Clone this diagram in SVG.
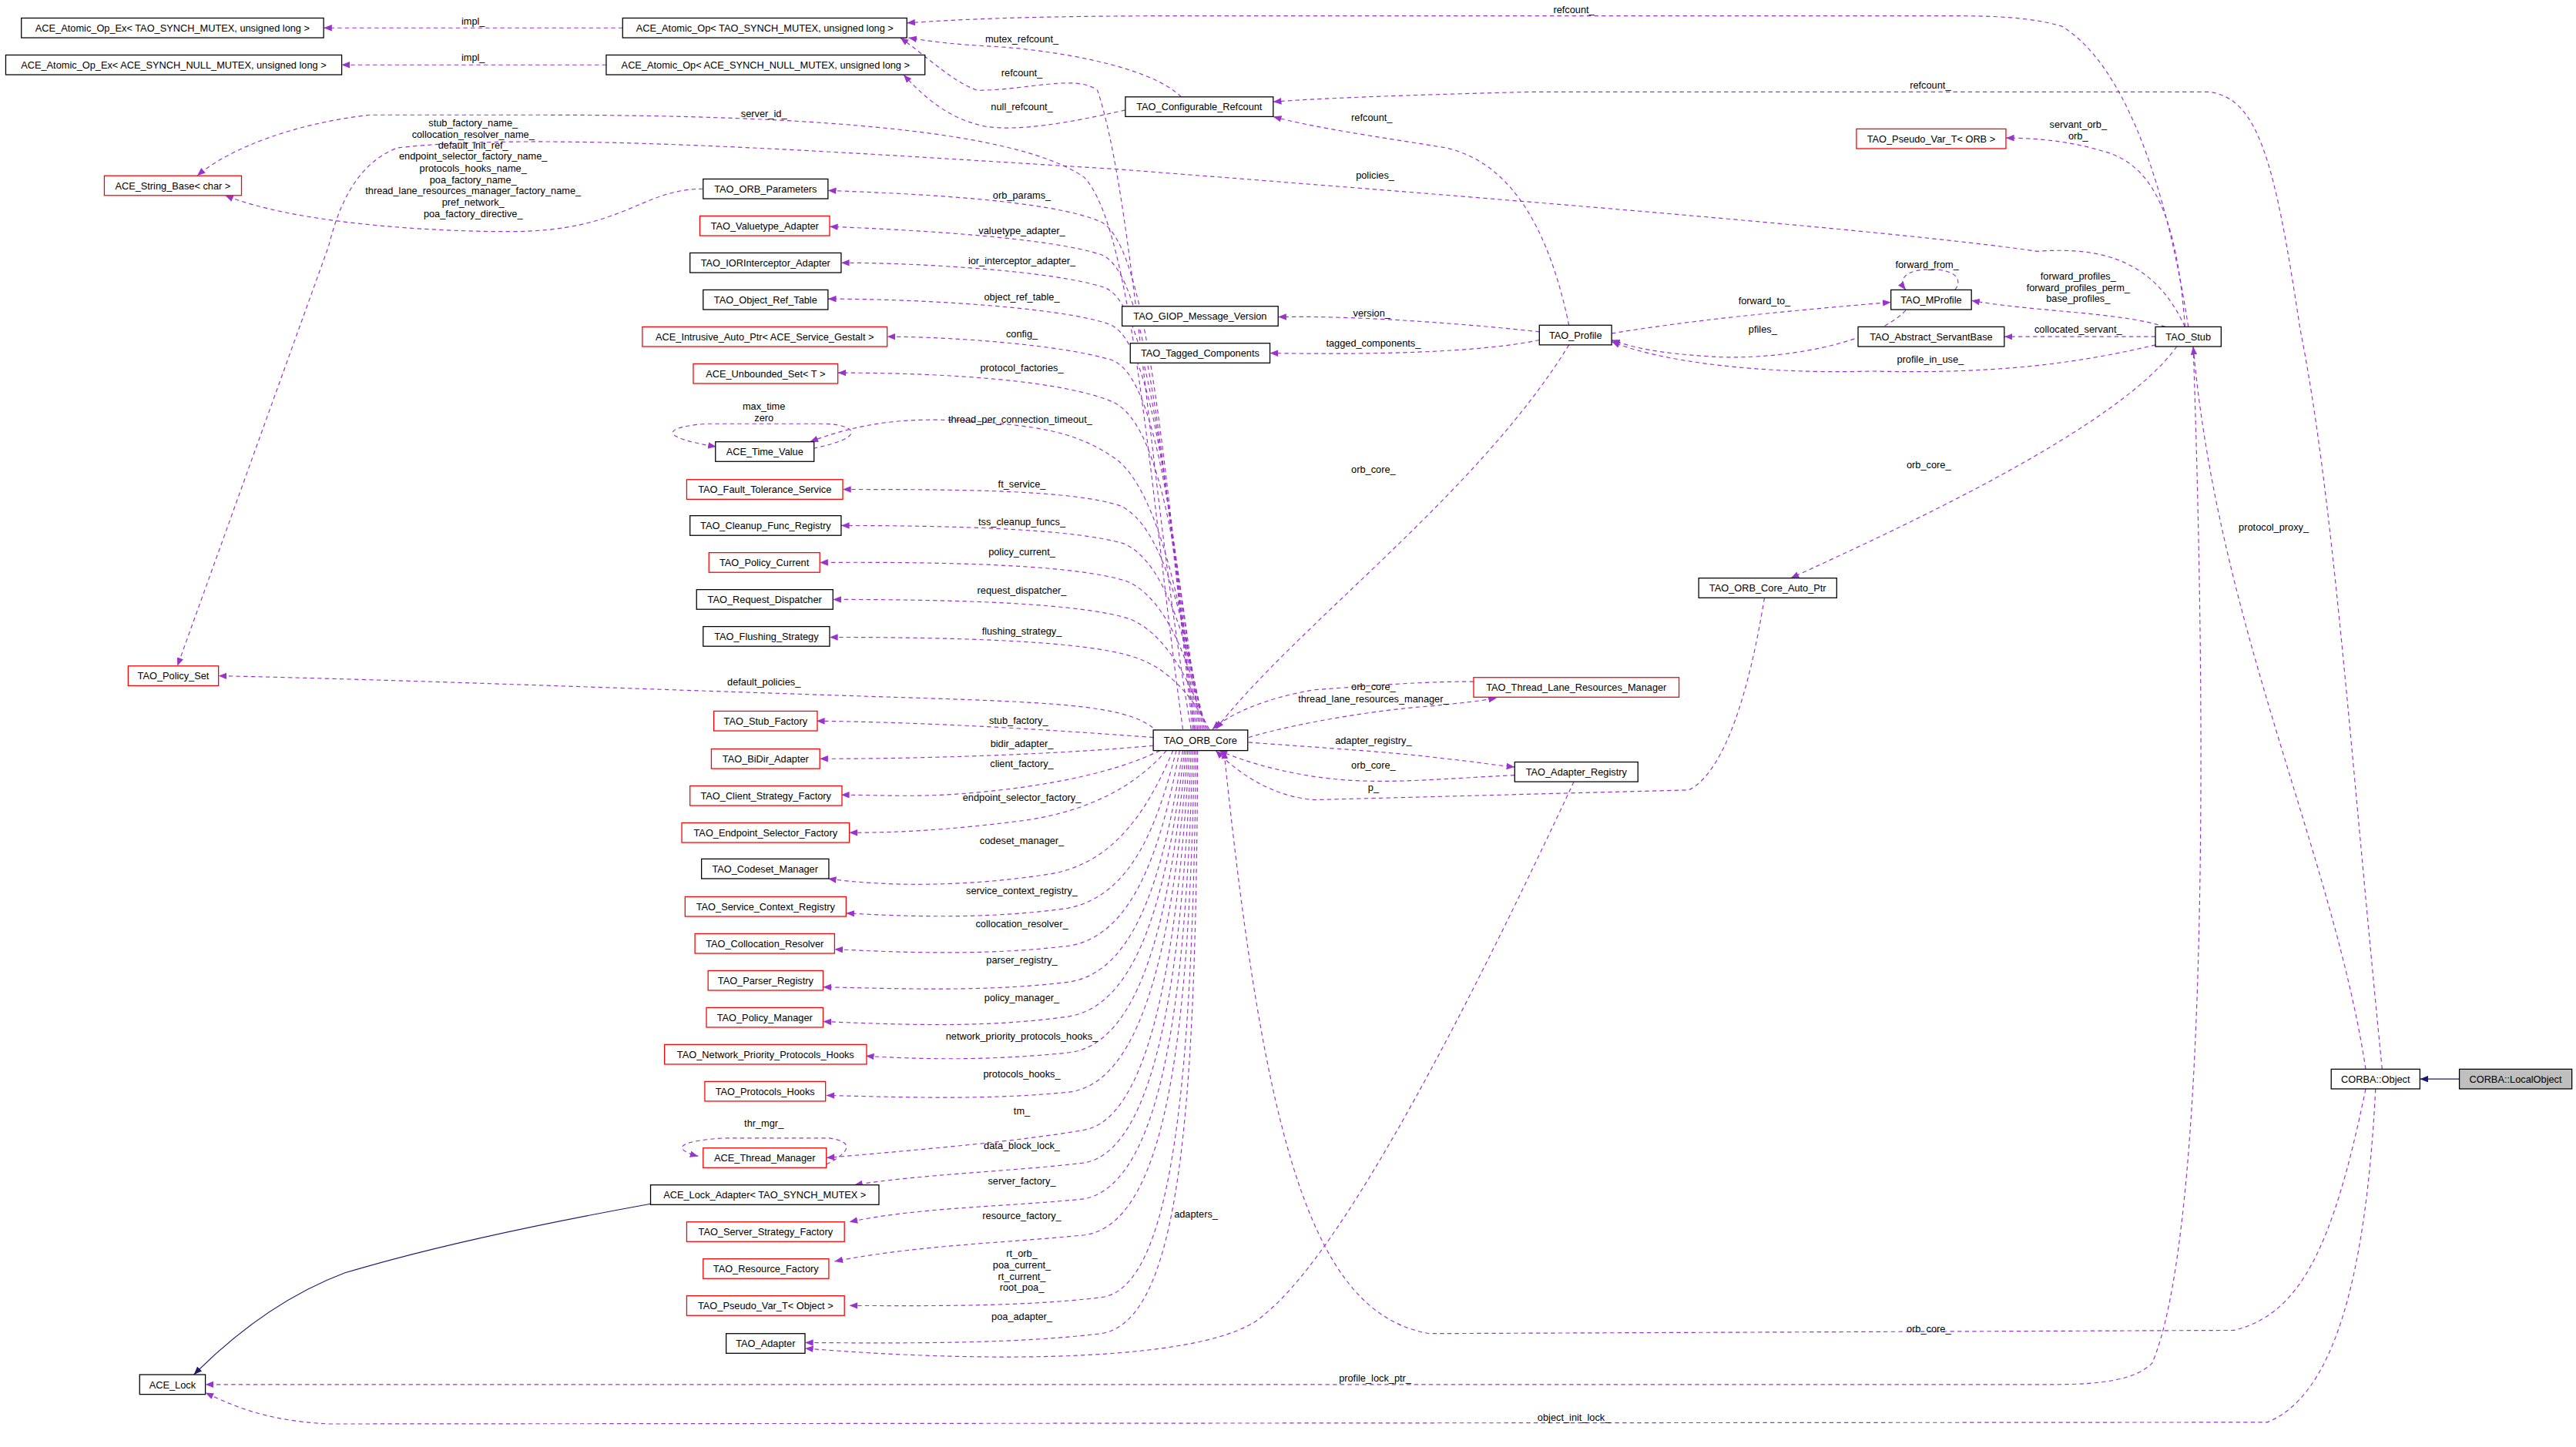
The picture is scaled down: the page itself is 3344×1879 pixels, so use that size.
<svg xmlns="http://www.w3.org/2000/svg" width="3344" height="1879" viewBox="0 0 3344 1879">
<style>
.n rect{fill:#fff;stroke:#000;stroke-width:0.6}
.n.r rect{stroke:#ff0000}
.n text{font-family:"Liberation Sans",Arial,sans-serif;font-size:6px;text-anchor:middle;fill:#000}
.e path{fill:none;stroke:#9a32cd;stroke-width:0.55;stroke-dasharray:2.5,2}
.e path.i{stroke:#191970;stroke-dasharray:none}
.l text{font-family:"Liberation Sans",Arial,sans-serif;font-size:6px;text-anchor:middle;fill:#000}
</style>
<defs>
<marker id="a" viewBox="0 0 10 8" refX="10" refY="4" markerWidth="5" markerHeight="4" markerUnits="userSpaceOnUse" orient="auto"><path d="M0,0L10,4L0,8z" fill="#9a32cd"/></marker>
<marker id="b" viewBox="0 0 10 8" refX="10" refY="4" markerWidth="5" markerHeight="4" markerUnits="userSpaceOnUse" orient="auto"><path d="M0,0L10,4L0,8z" fill="#191970"/></marker>
</defs>
<rect width="3344" height="1879" fill="#fff"/>
<g transform="scale(2.13265)">
<g id="edges" class="e">
<path marker-end="url(#a)" d="M379 17L197 17"/>
<path marker-end="url(#a)" d="M369 39.5L208 39.5"/>
<path marker-end="url(#a)" d="M719 59C700 40,640 30,600 28C580 27,565 25,553 23"/>
<path marker-end="url(#a)" d="M725 444C700 300,690 120,668 55C655 45,625 55,595 55C580 50,565 35,548 23"/>
<path marker-end="url(#a)" d="M685 67C650 75,620 80,600 77C580 73,565 62,550 45.5"/>
<path marker-end="url(#a)" d="M1332 199C1320 120,1295 40,1255 16C1235 10,1210 9.7,1190 9.7L700 9.7C620 10,580 12,552 14"/>
<path marker-end="url(#a)" d="M1450 651C1430 450,1420 300,1400 200C1385 100,1375 60,1345 56L930 56C850 58,800 60,775 62"/>
<path marker-end="url(#a)" d="M955 198C945 150,925 100,880 90C850 85,800 78,775 71"/>
<path marker-end="url(#a)" d="M1330 199C1312 160,1282 150,1240 153C1150 140,900 120,680 103C500 92,330 80,242 90C215 100,205 130,200 150L108 405.5"/>
<path marker-end="url(#a)" d="M720 444C700 300,690 140,660 108C620 80,500 70,330 70L225 70C180 75,140 90,120 107"/>
<path marker-end="url(#a)" d="M428 115C390 115,380 141,310 141C260 141,180 136,137 119"/>
<path marker-end="url(#a)" d="M727 444C710 300,700 150,670 135C640 122,560 118,504 116"/>
<path marker-end="url(#a)" d="M726 444C710 300,700 165,670 155C640 145,560 140,505 138"/>
<path marker-end="url(#a)" d="M727 444C712 320,702 185,672 175C642 165,560 160,512 160"/>
<path marker-end="url(#a)" d="M728 444C714 330,704 205,674 197C644 187,560 182,504 182"/>
<path marker-end="url(#a)" d="M729 444C716 340,706 228,676 219C646 210,580 205,540 205"/>
<path marker-end="url(#a)" d="M730 444C718 350,708 260,678 245C648 232,580 227,510 227"/>
<path marker-end="url(#a)" d="M731 444C720 370,705 300,680 280C655 262,630 260,600 257C560 254,530 255,493 269"/>
<path marker-end="url(#a)" d="M495 273C530 266,520 258,500 258L430 258C395 261,410 268,436 272"/>
<path marker-end="url(#a)" d="M732 444C722 380,708 320,682 308C652 298,580 298,513 298"/>
<path marker-end="url(#a)" d="M733 444C724 395,710 342,684 331C654 322,580 320,512 320"/>
<path marker-end="url(#a)" d="M734 444C726 410,712 365,686 354C656 344,580 342,499 342.5"/>
<path marker-end="url(#a)" d="M735 444C728 425,714 388,688 377C658 367,580 365,507 365"/>
<path marker-end="url(#a)" d="M736 444C730 432,716 408,690 400C660 390,580 388,505 388"/>
<path marker-end="url(#a)" d="M705 446C690 430,650 428,560 425C400 420,250 414,133 411.5"/>
<path marker-end="url(#a)" d="M702 449C660 446,580 440,497 439"/>
<path marker-end="url(#a)" d="M702 454C660 458,580 462,499 462"/>
<path marker-end="url(#a)" d="M706 457C680 470,640 478,600 482C560 486,540 484,512 484"/>
<path marker-end="url(#a)" d="M710 457C690 480,660 495,620 500C580 505,550 507,517 507"/>
<path marker-end="url(#a)" d="M714 457C700 490,680 525,640 532C590 540,540 540,504 535"/>
<path marker-end="url(#a)" d="M716 457C705 500,690 545,650 553C600 560,550 558,515 556"/>
<path marker-end="url(#a)" d="M718 457C708 510,692 570,650 576C600 582,550 580,508 578"/>
<path marker-end="url(#a)" d="M720 457C710 520,695 592,650 598C600 604,550 602,501 601"/>
<path marker-end="url(#a)" d="M721 457C712 530,697 612,650 619C600 626,550 624,501 622"/>
<path marker-end="url(#a)" d="M722 457C714 540,699 636,650 641C600 646,560 645,527 643"/>
<path marker-end="url(#a)" d="M723 457C716 550,701 660,650 665C600 670,550 668,503 667"/>
<path marker-end="url(#a)" d="M724 457C718 560,704 680,660 688C620 695,560 700,503 705"/>
<path marker-end="url(#a)" d="M503 709C520 700,518 695,505 693L440 693C410 695,410 700,425 704"/>
<path marker-end="url(#a)" d="M725 457C720 580,706 700,660 708C620 713,560 715,520 721.5"/>
<path marker-end="url(#a)" d="M726 457C722 600,709 720,660 730C610 735,560 735,517 744"/>
<path marker-end="url(#a)" d="M727 457C724 620,712 745,660 752C610 757,560 758,508 768"/>
<path marker-end="url(#a)" d="M728 457C726 650,715 785,670 790C620 796,560 795,517 795"/>
<path marker-end="url(#a)" d="M729 457C728 680,718 805,670 812C620 818,560 818,490 817.5"/>
<path marker-end="url(#a)" d="M958 476C900 600,820 760,770 800C740 830,600 830,490 821"/>
<path marker-end="url(#a)" d="M897 415C860 415,830 418,800 420C770 425,748 435,738 444"/>
<path marker-end="url(#a)" d="M760 449C790 440,840 432,870 430C890 428,900 427,911 425"/>
<path marker-end="url(#a)" d="M760 452C800 455,850 458,880 462C900 464,910 466,922 467"/>
<path marker-end="url(#a)" d="M922 472C880 474,850 477,820 475C790 473,760 465,742 457"/>
<path marker-end="url(#a)" d="M1074 364C1065 420,1050 470,1028 481L800 487C775 485,755 472,740 457"/>
<path marker-end="url(#a)" d="M955 210C900 300,790 380,740 444"/>
<path marker-end="url(#a)" d="M1325 211C1290 260,1160 320,1090 352"/>
<path marker-end="url(#a)" d="M1440 663C1420 760,1400 800,1360 810L870 812C800 800,770 700,745 457"/>
<path marker-end="url(#a)" d="M1335 211C1345 500,1340 760,1310 830C1300 840,1280 843,1250 843L125 843"/>
<path marker-end="url(#a)" d="M1446 663C1440 780,1420 850,1380 866L200 867C160 865,140 855,125 848"/>
<path marker-end="url(#a)" d="M1440 651C1420 520,1350 380,1335 211"/>
<path marker-end="url(#a)" d="M1330 199C1325 130,1310 100,1280 92C1260 86,1240 84,1221 84"/>
<path marker-end="url(#a)" d="M1318 199C1290 190,1240 190,1200 183"/>
<path marker-end="url(#a)" d="M1312 205L1220 205"/>
<path marker-end="url(#a)" d="M1312 210C1270 220,1220 228,1140 226C1070 228,1010 220,981 208"/>
<path marker-end="url(#a)" d="M1190 176.5C1195 170,1190 164,1175 164C1160 164,1155 170,1160 176.5"/>
<path marker-end="url(#a)" d="M981 203C1030 195,1080 190,1151 184"/>
<path marker-end="url(#a)" d="M1160 189C1140 210,1080 220,1040 217C1010 215,995 212,981 207"/>
<path marker-end="url(#a)" d="M937 202C900 198,830 192,778 193"/>
<path marker-end="url(#a)" d="M937 207C900 215,830 216,773 215"/>
<path class="i" marker-end="url(#b)" d="M1497 657L1473 657"/>
<path class="i" marker-end="url(#b)" d="M396 733C330 745,260 760,210 775C170 790,140 815,118 837"/>
</g>
<g class="l">
<text x="288" y="15">impl_</text><text x="288" y="37">impl_</text>
<text x="622" y="26">mutex_refcount_</text><text x="622" y="46.5">refcount_</text><text x="622" y="67">null_refcount_</text>
<text x="958" y="8">refcount_</text><text x="1175" y="54">refcount_</text><text x="835" y="73.5">refcount_</text>
<text x="837" y="109">policies_</text><text x="465" y="71.5">server_id_</text>
<text x="288" y="77">stub_factory_name_</text><text x="288" y="83.7">collocation_resolver_name_</text><text x="288" y="90.5">default_init_ref_</text><text x="288" y="97">endpoint_selector_factory_name_</text><text x="288" y="104.5">protocols_hooks_name_</text><text x="288" y="111.5">poa_factory_name_</text><text x="288" y="118">thread_lane_resources_manager_factory_name_</text><text x="288" y="125">pref_network_</text><text x="288" y="132">poa_factory_directive_</text>
<text x="622" y="121">orb_params_</text><text x="622" y="142.5">valuetype_adapter_</text><text x="622" y="161">ior_interceptor_adapter_</text><text x="622" y="183">object_ref_table_</text><text x="622" y="205.5">config_</text><text x="622" y="226">protocol_factories_</text>
<text x="465" y="249.5">max_time</text><text x="465" y="256.5">zero</text><text x="621" y="257.5">thread_per_connection_timeout_</text>
<text x="622" y="297">ft_service_</text><text x="622" y="320">tss_cleanup_funcs_</text><text x="622" y="338">policy_current_</text><text x="622" y="361.5">request_dispatcher_</text><text x="622" y="386.5">flushing_strategy_</text>
<text x="465" y="417.5">default_policies_</text><text x="620" y="441">stub_factory_</text><text x="622" y="454.7">bidir_adapter_</text><text x="622" y="467">client_factory_</text><text x="622" y="487.5">endpoint_selector_factory_</text><text x="622" y="514">codeset_manager_</text><text x="622" y="544.6">service_context_registry_</text><text x="622" y="564.6">collocation_resolver_</text><text x="622" y="586.7">parser_registry_</text><text x="622" y="609.5">policy_manager_</text><text x="622" y="633">network_priority_protocols_hooks_</text><text x="622" y="656">protocols_hooks_</text>
<text x="622" y="678.4">tm_</text><text x="465" y="686">thr_mgr_</text><text x="622" y="699.7">data_block_lock_</text><text x="622" y="721">server_factory_</text><text x="622" y="742.4">resource_factory_</text>
<text x="622" y="765.3">rt_orb_</text><text x="622" y="772.4">poa_current_</text><text x="622" y="779.5">rt_current_</text><text x="622" y="786">root_poa_</text><text x="622" y="803.5">poa_adapter_</text><text x="728" y="741.4">adapters_</text>
<text x="836" y="420">orb_core_</text><text x="836" y="427.5">thread_lane_resources_manager_</text><text x="836" y="453">adapter_registry_</text><text x="836" y="468">orb_core_</text><text x="836" y="481.5">p_</text>
<text x="836" y="288">orb_core_</text><text x="1174" y="285">orb_core_</text><text x="1174" y="811">orb_core_</text><text x="837" y="841">profile_lock_ptr_</text><text x="958" y="865">object_init_lock_</text><text x="1384" y="323">protocol_proxy_</text>
<text x="1265" y="78">servant_orb_</text><text x="1265" y="84.8">orb_</text><text x="1265" y="170.3">forward_profiles_</text><text x="1265" y="177.3">forward_profiles_perm_</text><text x="1265" y="183.7">base_profiles_</text><text x="1265" y="202.5">collocated_servant_</text><text x="1175" y="221">profile_in_use_</text><text x="1173" y="163">forward_from_</text><text x="1074" y="185">forward_to_</text><text x="1073" y="202.5">pfiles_</text><text x="835" y="192.6">version_</text><text x="836" y="211">tagged_components_</text>
</g>
<g id="n1" class="n"><rect x="13" y="11" width="184" height="12"/><text x="105" y="19.2">ACE_Atomic_Op_Ex&lt; TAO_SYNCH_MUTEX, unsigned long &gt;</text></g>
<g id="n2" class="n"><rect x="3.5" y="33.5" width="204.5" height="12"/><text x="105.7" y="41.7">ACE_Atomic_Op_Ex&lt; ACE_SYNCH_NULL_MUTEX, unsigned long &gt;</text></g>
<g id="n3" class="n"><rect x="379" y="11" width="173" height="12"/><text x="465.5" y="19.2">ACE_Atomic_Op&lt; TAO_SYNCH_MUTEX, unsigned long &gt;</text></g>
<g id="n4" class="n"><rect x="369" y="33.5" width="194" height="12"/><text x="466" y="41.7">ACE_Atomic_Op&lt; ACE_SYNCH_NULL_MUTEX, unsigned long &gt;</text></g>
<g id="n5" class="n"><rect x="685" y="59" width="90" height="12"/><text x="730" y="67.2">TAO_Configurable_Refcount</text></g>
<g id="n6" class="n r"><rect x="63.5" y="107" width="83.5" height="12"/><text x="105.2" y="115.2">ACE_String_Base&lt; char &gt;</text></g>
<g id="n7" class="n"><rect x="428" y="109" width="76" height="12"/><text x="466" y="117.2">TAO_ORB_Parameters</text></g>
<g id="n8" class="n r"><rect x="426" y="131.5" width="79" height="12"/><text x="465.5" y="139.7">TAO_Valuetype_Adapter</text></g>
<g id="n9" class="n"><rect x="420" y="154" width="92" height="12"/><text x="466" y="162.2">TAO_IORInterceptor_Adapter</text></g>
<g id="n10" class="n"><rect x="428" y="176.5" width="76" height="12"/><text x="466" y="184.7">TAO_Object_Ref_Table</text></g>
<g id="n11" class="n r"><rect x="391" y="199" width="149" height="12"/><text x="465.5" y="207.2">ACE_Intrusive_Auto_Ptr&lt; ACE_Service_Gestalt &gt;</text></g>
<g id="n12" class="n r"><rect x="422" y="221.5" width="88" height="12"/><text x="466" y="229.7">ACE_Unbounded_Set&lt; T &gt;</text></g>
<g id="n13" class="n"><rect x="435.5" y="269" width="60" height="12"/><text x="465.5" y="277.2">ACE_Time_Value</text></g>
<g id="n14" class="n r"><rect x="418" y="292" width="95" height="12"/><text x="465.5" y="300.2">TAO_Fault_Tolerance_Service</text></g>
<g id="n15" class="n"><rect x="420" y="314" width="92" height="12"/><text x="466" y="322.2">TAO_Cleanup_Func_Registry</text></g>
<g id="n16" class="n r"><rect x="431.5" y="336.5" width="67.5" height="12"/><text x="465.2" y="344.7">TAO_Policy_Current</text></g>
<g id="n17" class="n"><rect x="424" y="359" width="83" height="12"/><text x="465.5" y="367.2">TAO_Request_Dispatcher</text></g>
<g id="n18" class="n"><rect x="428" y="381.5" width="77" height="12"/><text x="466.5" y="389.7">TAO_Flushing_Strategy</text></g>
<g id="n19" class="n r"><rect x="78" y="405.5" width="55" height="12"/><text x="105.5" y="413.7">TAO_Policy_Set</text></g>
<g id="n20" class="n"><rect x="683" y="186.5" width="95" height="12"/><text x="730.5" y="194.7">TAO_GIOP_Message_Version</text></g>
<g id="n21" class="n"><rect x="688" y="209" width="85" height="12"/><text x="730.5" y="217.2">TAO_Tagged_Components</text></g>
<g id="n22" class="n r"><rect x="1130" y="78.5" width="91" height="12"/><text x="1175.5" y="86.7">TAO_Pseudo_Var_T&lt; ORB &gt;</text></g>
<g id="n23" class="n"><rect x="1151" y="176.5" width="49" height="12"/><text x="1175.5" y="184.7">TAO_MProfile</text></g>
<g id="n24" class="n"><rect x="937" y="198" width="44" height="12"/><text x="959" y="206.2">TAO_Profile</text></g>
<g id="n25" class="n"><rect x="1131" y="199" width="89" height="12"/><text x="1175.5" y="207.2">TAO_Abstract_ServantBase</text></g>
<g id="n26" class="n"><rect x="1312" y="199" width="40" height="12"/><text x="1332" y="207.2">TAO_Stub</text></g>
<g id="n27" class="n"><rect x="702" y="444.5" width="57.5" height="12.5"/><text x="730.7" y="453">TAO_ORB_Core</text></g>
<g id="n28" class="n r"><rect x="897" y="412.5" width="125" height="12"/><text x="959.5" y="420.7">TAO_Thread_Lane_Resources_Manager</text></g>
<g id="n29" class="n"><rect x="922" y="464" width="75" height="12"/><text x="959.5" y="472.2">TAO_Adapter_Registry</text></g>
<g id="n30" class="n r"><rect x="434.5" y="433" width="63" height="12"/><text x="466" y="441.2">TAO_Stub_Factory</text></g>
<g id="n31" class="n r"><rect x="433" y="456" width="66" height="12"/><text x="466" y="464.2">TAO_BiDir_Adapter</text></g>
<g id="n32" class="n r"><rect x="420" y="478.5" width="92.5" height="12"/><text x="466.2" y="486.7">TAO_Client_Strategy_Factory</text></g>
<g id="n33" class="n r"><rect x="415" y="501" width="102" height="12"/><text x="466" y="509.2">TAO_Endpoint_Selector_Factory</text></g>
<g id="n34" class="n"><rect x="427" y="523" width="77.5" height="12"/><text x="465.7" y="531.2">TAO_Codeset_Manager</text></g>
<g id="n35" class="n r"><rect x="417" y="546" width="98" height="12"/><text x="466" y="554.2">TAO_Service_Context_Registry</text></g>
<g id="n36" class="n r"><rect x="423" y="568.5" width="85" height="12"/><text x="465.5" y="576.7">TAO_Collocation_Resolver</text></g>
<g id="n37" class="n r"><rect x="431" y="591" width="70" height="12"/><text x="466" y="599.2">TAO_Parser_Registry</text></g>
<g id="n38" class="n r"><rect x="430" y="613.5" width="71" height="12"/><text x="465.5" y="621.7">TAO_Policy_Manager</text></g>
<g id="n39" class="n r"><rect x="404.5" y="636" width="123" height="12"/><text x="466" y="644.2">TAO_Network_Priority_Protocols_Hooks</text></g>
<g id="n40" class="n r"><rect x="429" y="658.5" width="73.5" height="12"/><text x="465.7" y="666.7">TAO_Protocols_Hooks</text></g>
<g id="n41" class="n r"><rect x="428" y="699" width="75" height="12"/><text x="465.5" y="707.2">ACE_Thread_Manager</text></g>
<g id="n42" class="n"><rect x="396" y="721.5" width="139" height="12"/><text x="465.5" y="729.7">ACE_Lock_Adapter&lt; TAO_SYNCH_MUTEX &gt;</text></g>
<g id="n43" class="n r"><rect x="418" y="744" width="96" height="12"/><text x="466" y="752.2">TAO_Server_Strategy_Factory</text></g>
<g id="n44" class="n r"><rect x="428" y="766.5" width="76.5" height="12"/><text x="466.2" y="774.7">TAO_Resource_Factory</text></g>
<g id="n45" class="n r"><rect x="418" y="789" width="96" height="12"/><text x="466" y="797.2">TAO_Pseudo_Var_T&lt; Object &gt;</text></g>
<g id="n46" class="n"><rect x="442" y="812" width="48" height="12"/><text x="466" y="820.2">TAO_Adapter</text></g>
<g id="n47" class="n"><rect x="85" y="837" width="40" height="12"/><text x="105" y="845.2">ACE_Lock</text></g>
<g id="n48" class="n"><rect x="1034" y="352" width="84" height="12"/><text x="1076" y="360.2">TAO_ORB_Core_Auto_Ptr</text></g>
<g id="n49" class="n"><rect x="1419" y="651" width="54" height="12"/><text x="1446" y="659.2">CORBA::Object</text></g>
<g id="n50" class="n"><rect x="1497" y="651" width="68.5" height="12" style="fill:#bfbfbf"/><text x="1531.2" y="659.2">CORBA::LocalObject</text></g>
</g>
</svg>
